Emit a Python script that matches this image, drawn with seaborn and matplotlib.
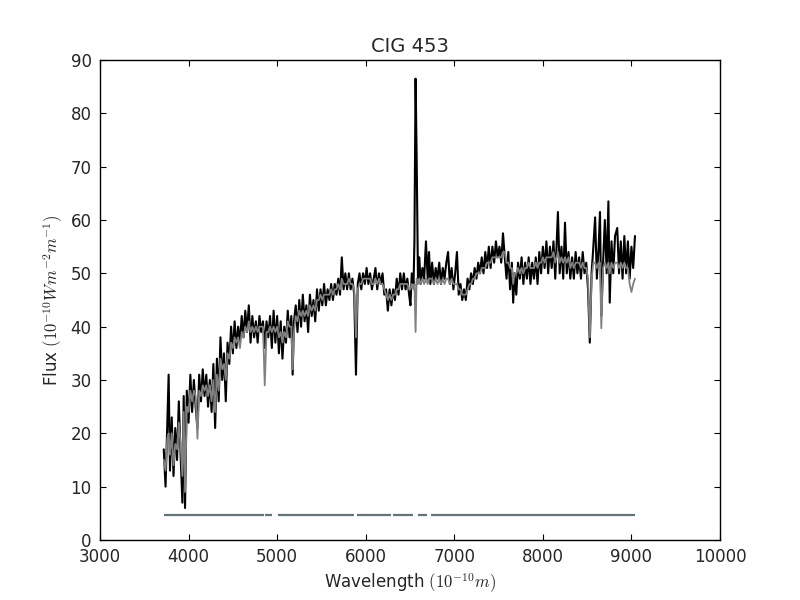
import matplotlib
matplotlib.use("Agg")
import matplotlib.pyplot as plt
import seaborn as sns

# spectrum of CIG 453
wavelength = [
    3720, 3740, 3760, 3775, 3790, 3810, 3830, 3850, 3870, 3890, 3910, 3930, 3945, 3960, 3980,
    4000, 4020, 4040, 4060, 4080, 4100, 4120, 4140, 4160, 4180, 4200, 4220, 4240, 4260, 4280,
    4300, 4320, 4340, 4360, 4380, 4400, 4420, 4440, 4460, 4480, 4500, 4520, 4540, 4560, 4580,
    4600, 4620, 4640, 4660, 4680, 4700, 4720, 4740, 4760, 4780, 4800, 4820, 4840, 4860, 4880,
    4900, 4920, 4940, 4960, 4980, 5000, 5020, 5040, 5060, 5080, 5100, 5120, 5140, 5160, 5175,
    5190, 5210, 5230, 5250, 5270, 5290, 5310, 5330, 5350, 5370, 5390, 5410, 5430, 5450, 5470,
    5490, 5510, 5530, 5550, 5570, 5590, 5610, 5630, 5650, 5670, 5690, 5710, 5730, 5750, 5770,
    5790, 5810, 5830, 5850, 5870, 5890, 5910, 5930, 5950, 5970, 5990, 6010, 6030, 6050, 6070,
    6090, 6110, 6130, 6150, 6170, 6190, 6210, 6230, 6250, 6270, 6290, 6310, 6330, 6350, 6370,
    6390, 6410, 6430, 6450, 6470, 6490, 6505, 6520, 6540, 6550, 6563, 6575, 6590, 6605, 6620,
    6640, 6660, 6680, 6700, 6715, 6730, 6750, 6770, 6790, 6810, 6830, 6850, 6870, 6890, 6910,
    6930, 6950, 6970, 6990, 7010, 7030, 7050, 7070, 7090, 7110, 7130, 7150, 7170, 7190, 7210,
    7230, 7250, 7270, 7290, 7310, 7330, 7350, 7370, 7390, 7410, 7430, 7450, 7470, 7490, 7510,
    7530, 7550, 7570, 7590, 7610, 7630, 7650, 7665, 7680, 7700, 7720, 7740, 7760, 7780, 7800,
    7820, 7840, 7860, 7880, 7900, 7920, 7940, 7960, 7980, 8000, 8020, 8040, 8060, 8080, 8100,
    8120, 8140, 8170, 8190, 8210, 8230, 8250, 8270, 8290, 8310, 8330, 8350, 8370, 8390, 8410,
    8430, 8450, 8470, 8490, 8510, 8530, 8550, 8570, 8590, 8610, 8630, 8645, 8660, 8680, 8700,
    8720, 8740, 8755, 8775, 8795, 8815, 8840, 8860, 8880, 8900, 8920, 8940, 8960, 8980, 9000,
    9020, 9040,
]

observed = [
    17, 10, 22, 31, 13, 23, 12, 21, 15, 26, 16, 7, 27, 6, 28,
    22, 31, 24, 30, 25, 21, 31, 26, 32, 27, 31, 25, 30, 24, 33,
    21, 34, 26, 38, 30, 35, 26, 37, 33, 40, 35, 41, 36, 40, 37,
    42, 38, 43, 39, 44, 37, 42, 38, 41, 37, 42, 39, 41, 36, 41,
    38, 42, 36, 43, 37, 42, 35, 41, 34, 40, 37, 43, 38, 42, 31,
    41, 44, 39, 45, 40, 46, 41, 44, 39, 46, 42, 45, 41, 47, 43,
    47, 44, 48, 44, 47, 45, 48, 45, 48, 46, 49, 46, 53, 47, 50,
    47, 50, 47, 49, 46, 31, 48, 50, 47, 50, 48, 51, 48, 50, 47,
    49, 51, 47, 50, 48, 50, 46, 47, 43, 47, 44, 47, 45, 49, 46,
    50, 47, 50, 47, 49, 46, 44, 50, 48, 56, 86.5, 72, 49, 53, 48,
    51, 49, 56, 49, 54, 48, 52, 48, 51, 49, 52, 48, 51, 49, 52,
    54, 48, 51, 47, 50, 54, 46, 48, 45, 47, 45, 49, 47, 50, 48,
    51, 49, 52, 50, 53, 50, 54, 51, 55, 51, 55, 52, 56, 53, 55,
    52, 57.5, 53, 49, 54, 47, 52, 44.5, 50, 46, 52, 49, 53, 48, 52,
    49, 53, 48, 52, 49, 53, 48, 54, 50, 55, 51, 56, 50, 55, 51,
    56, 49, 61.5, 50, 55, 49, 59.5, 50, 54, 49, 53, 49, 54, 50, 53,
    49, 54, 50, 52, 47, 37, 50, 55, 60.5, 49, 55, 61.5, 42, 52, 60,
    50, 63.5, 44.5, 56, 50, 57, 58.5, 50, 56, 49, 57, 50, 56, 49, 55,
    51, 57,
]

model = [
    15, 13, 19, 20, 16, 20, 14, 18, 17, 22, 18, 12, 24, 9, 25,
    24, 28, 26, 28, 27, 19, 28, 27, 29, 28, 29, 27, 29, 26, 30,
    24, 31, 28, 34, 32, 33, 30, 35, 34, 37, 36, 38, 37, 38, 36,
    39, 38, 40, 39, 41, 39, 40, 39, 40, 39, 40, 40, 40, 29, 39,
    39, 40, 39, 40, 39, 40, 38, 39, 37, 39, 38, 41, 40, 40, 32,
    39, 42, 41, 43, 42, 43, 42, 43, 42, 44, 43, 44, 43, 45, 45,
    46, 45, 46, 46, 46, 46, 47, 46, 47, 47, 48, 47, 49, 48, 48,
    48, 49, 48, 48, 47, 38, 47, 48, 48, 49, 49, 49, 49, 49, 48,
    48, 49, 48, 49, 48, 48, 47, 46, 45, 46, 45, 46, 46, 47, 47,
    48, 48, 48, 48, 48, 47, 47, 48, 47, 48, 39, 49, 48, 49, 48,
    49, 48, 49, 48, 49, 49, 49, 48, 49, 48, 49, 48, 49, 48, 49,
    49, 48, 49, 48, 48, 48, 47, 47, 46, 46, 46, 47, 48, 48, 49,
    49, 50, 50, 50, 51, 51, 51, 52, 52, 52, 53, 53, 53, 53, 53,
    53, 54, 54, 52, 52, 51, 51, 48, 50, 50, 51, 50, 51, 50, 51,
    51, 52, 51, 51, 51, 52, 51, 52, 52, 53, 52, 53, 53, 53, 53,
    54, 52, 54, 52, 53, 52, 53, 52, 53, 51, 52, 51, 52, 52, 52,
    51, 52, 51, 51, 49, 38, 49, 52, 52, 51, 52, 52, 39.7, 51, 52,
    51, 52, 50, 52, 51, 52, 52, 51, 52, 51, 52, 51, 51, 48, 46.5,
    48, 49,
]

# pixel mask: good wavelength ranges drawn along the bottom
mask_start = [3720, 4860, 5010, 5900, 6310, 6590, 6740]
mask_end = [4850, 4940, 5870, 6290, 6530, 6690, 9040]
mask_level = 4.7

sns.set_style("ticks")
plt.rcParams.update({
    "font.family": ["DejaVu Sans"],
    "font.size": 12,
    "mathtext.fontset": "cm",
    "xtick.direction": "in",
    "ytick.direction": "in",
    "xtick.top": True,
    "ytick.right": True,
    "xtick.major.size": 4,
    "ytick.major.size": 4,
    "xtick.major.pad": 6,
    "ytick.major.pad": 6,
    "axes.edgecolor": "black",
    "axes.linewidth": 1.0,
})

fig, ax = plt.subplots(figsize=(8, 6), dpi=100)
fig.subplots_adjust(left=0.125, right=0.9, bottom=0.1, top=0.9)

sns.lineplot(x=wavelength, y=observed, color="black", linewidth=1.5,
             estimator=None, sort=False, ax=ax)
sns.lineplot(x=wavelength, y=model, color="0.5", linewidth=1.3,
             estimator=None, sort=False, ax=ax)
ax.hlines([mask_level] * len(mask_start), mask_start, mask_end,
          color="#637378", linewidth=1.6)

ax.set_xlim(3000, 10000)
ax.set_ylim(0, 90)
ax.set_xticks(range(3000, 10001, 1000))
ax.set_yticks(range(0, 91, 10))
ax.tick_params(labelsize=12, color="black")
for s in ax.spines.values():
    s.set_visible(True)

ax.set_title("CIG 453", fontsize=14)
ax.set_xlabel(r"Wavelength $(10^{-10}m)$", fontsize=12)
ax.set_ylabel(r"Flux $(10^{-10}Wm^{-2}m^{-1})$", fontsize=12)

fig.savefig("out.png", dpi=100)
